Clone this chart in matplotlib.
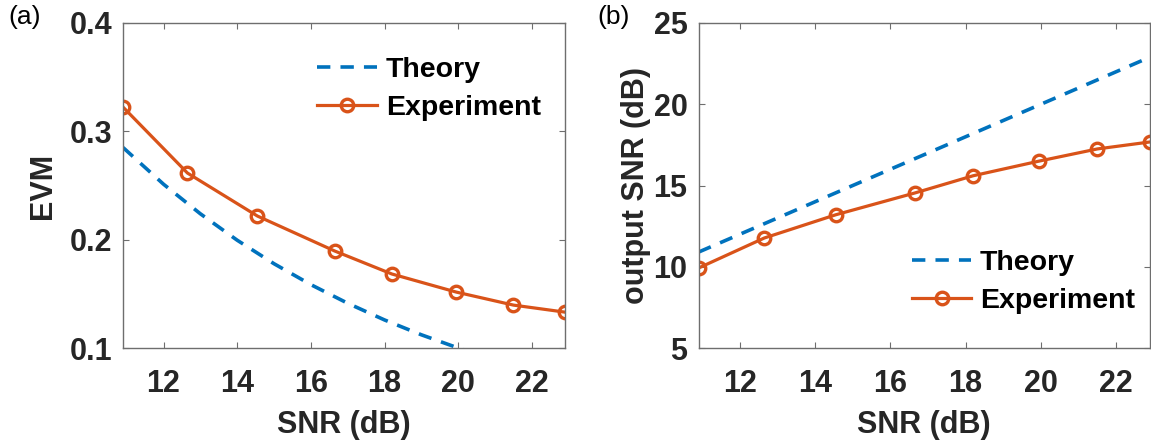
import numpy as np
import matplotlib
matplotlib.use('Agg')
import matplotlib.pyplot as plt

plt.rcParams['font.family'] = ['Liberation Sans', 'DejaVu Sans']
plt.rcParams['font.weight'] = 'bold'

# ---------------------------------------------------------------------------
# Data
# ---------------------------------------------------------------------------
snr_exp = [10.9, 12.65, 14.55, 16.65, 18.2, 19.95, 21.5, 22.9]
evm_exp = [0.3224, 0.2615, 0.2218, 0.1895, 0.1683, 0.1516, 0.1396, 0.1331]
out_snr_exp = [9.92, 11.77, 13.2, 14.54, 15.6, 16.5, 17.25, 17.68]

snr_theory = [10.9, 12, 13, 14, 15, 16, 17, 18, 19, 20, 21, 22, 22.9]
evm_theory = [0.2851, 0.2512, 0.2239, 0.1995, 0.1778, 0.1585, 0.1413,
              0.1259, 0.1122, 0.1000, 0.0891, 0.0794, 0.0716]
out_snr_theory = [10.9, 12, 13, 14, 15, 16, 17, 18, 19, 20, 21, 22, 22.9]

x_ticks = [12, 14, 16, 18, 20, 22]

blue = '#0072BD'
orange = '#D95319'
tick_col = '#262626'
FS = 22

fig = plt.figure(figsize=(11.51, 4.46), dpi=100)
ax1 = fig.add_axes([123 / 1151, 1 - 348 / 446, 442 / 1151, 325 / 446])
ax2 = fig.add_axes([698.5 / 1151, 1 - 348 / 446, 451.5 / 1151, 325 / 446])


def style_axes(ax):
    for sp in ax.spines.values():
        sp.set_color('#6e6e6e')
        sp.set_linewidth(1.0)
    ax.tick_params(direction='in', length=4, width=0.8, color='#6e6e6e',
                   top=True, right=True, labelsize=FS, labelcolor=tick_col)
    ax.tick_params(axis='x', pad=15)
    ax.tick_params(axis='y', pad=8)
    for lab in ax.get_xticklabels() + ax.get_yticklabels():
        lab.set_fontweight('bold')


def draw(ax, y_theory, y_exp):
    th, = ax.plot(snr_theory, y_theory, color=blue, lw=2.6, label='Theory')
    th.set_dashes((3.7, 2.8))
    ax.plot(snr_exp, y_exp, color=orange, lw=2.3, marker='o', ms=9,
            mfc='none', mew=2.4, label='Experiment')
    ax.set_xlim(10.9, 22.9)
    ax.set_xticks(x_ticks)
    ax.set_xlabel('SNR (dB)', fontsize=FS, fontweight='bold', color=tick_col,
                  labelpad=8)


# (a) EVM
draw(ax1, evm_theory, evm_exp)
ax1.set_ylim(0.1, 0.4)
ax1.set_yticks([0.1, 0.2, 0.3, 0.4])
ax1.set_ylabel('EVM', fontsize=FS, fontweight='bold', color=tick_col,
               labelpad=8)
style_axes(ax1)
ax1.legend(loc='upper left', bbox_to_anchor=(0.44, 0.895), frameon=False,
           fontsize=20.5, handlelength=2.1, handletextpad=0.3,
           labelspacing=0.4, borderpad=0, borderaxespad=0)

# (b) output SNR
draw(ax2, out_snr_theory, out_snr_exp)
ax2.set_ylim(5, 25)
ax2.set_yticks([5, 10, 15, 20, 25])
ax2.set_ylabel('output SNR (dB)', fontsize=FS, fontweight='bold',
               color=tick_col, labelpad=2)
style_axes(ax2)
ax2.legend(loc='lower left', bbox_to_anchor=(0.472, 0.106), frameon=False,
           fontsize=20.5, handlelength=2.1, handletextpad=0.3,
           labelspacing=0.4, borderpad=0, borderaxespad=0)

fig.text(8 / 1151, 1 - 17 / 446, '(a)', fontsize=19, fontweight='normal',
         va='center', ha='left')
fig.text(597 / 1151, 1 - 17 / 446, '(b)', fontsize=19, fontweight='normal',
         va='center', ha='left')

fig.savefig('out.png', dpi=100, facecolor='w')
plt.close()
